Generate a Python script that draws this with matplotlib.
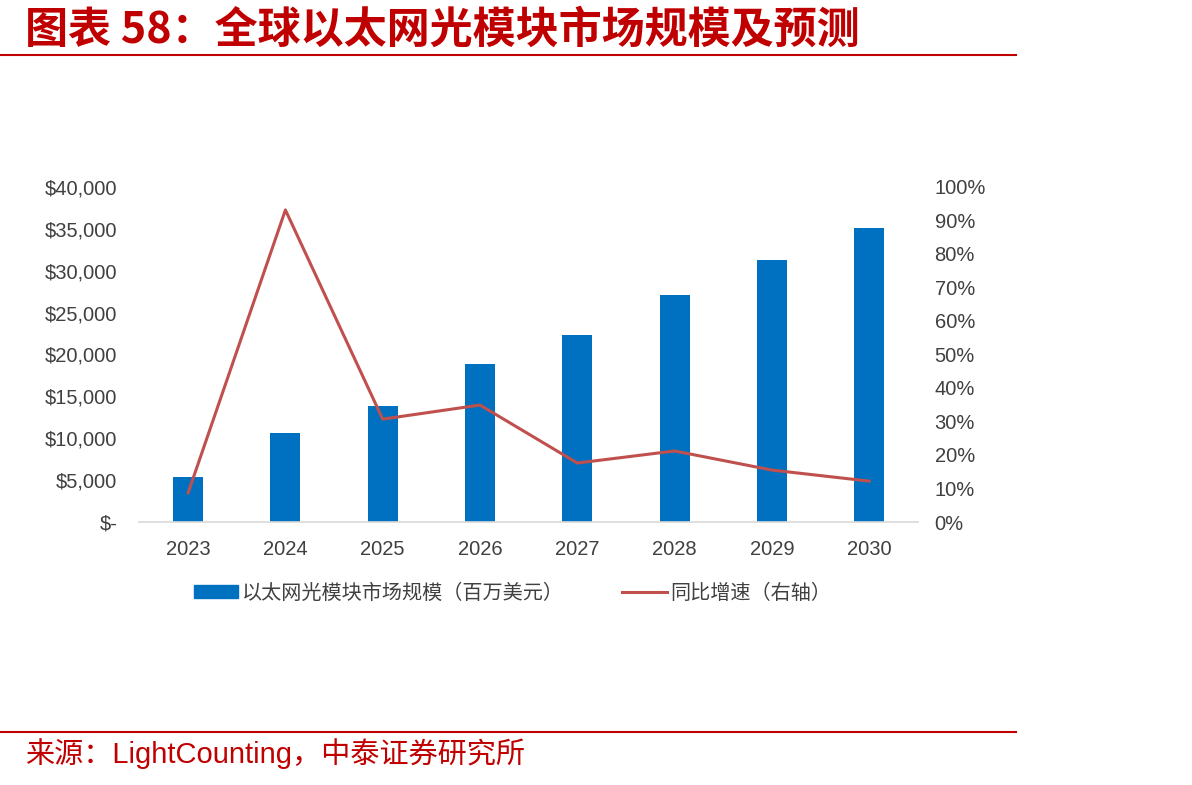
import matplotlib as mpl

mpl.use("Agg")
import matplotlib.pyplot as plt
import matplotlib.ticker as mticker
from matplotlib.lines import Line2D
from matplotlib.patches import Patch
import numpy as np

mpl.rcParams["font.family"] = ["Liberation Sans", "Noto Sans CJK SC", "DejaVu Sans"]
mpl.rcParams["axes.unicode_minus"] = False

RED = "#C00000"
BLUE = "#0070C0"
LINE = "#C0504D"
TICK = "#404040"

years = ["2023", "2024", "2025", "2026", "2027", "2028", "2029", "2030"]
market_size = [5400, 10600, 13900, 18900, 22300, 27100, 31300, 35100]  # 百万美元
yoy_growth = [0.087, 0.931, 0.307, 0.349, 0.176, 0.212, 0.155, 0.122]

left_ticks = [0, 5000, 10000, 15000, 20000, 25000, 30000, 35000, 40000]
right_ticks = [i / 10 for i in range(11)]


def dollar(v, pos):
    if v == 0:
        return "$-"
    return f"${v:,.0f}"


fig = plt.figure(figsize=(11.92, 7.85), dpi=100)
fig.patch.set_facecolor("white")

# header / footer
fig.text(0.021, 0.962, "图表 58：全球以太网光模块市场规模及预测", fontsize=31,
         fontweight="bold", color=RED, va="center",
         family=["Noto Sans CJK SC", "DejaVu Sans"])
fig.add_artist(Line2D([0, 0.852], [0.930, 0.930], color=RED, lw=1.5))
fig.add_artist(Line2D([0, 0.852], [0.068, 0.068], color=RED, lw=1.5))
fig.text(0.021, 0.040, "来源：LightCounting，中泰证券研究所", fontsize=21,
         color=RED, va="center")

ax = fig.add_axes([0.117, 0.335, 0.653, 0.427])
x = np.arange(len(years))
ax.bar(x, market_size, width=0.31, color=BLUE, zorder=2)
ax.set_xlim(-0.5, len(years) - 0.5)
ax.set_ylim(0, 40000)
ax.set_yticks(left_ticks)
ax.yaxis.set_major_formatter(mticker.FuncFormatter(dollar))
ax.set_xticks(x)
ax.set_xticklabels(years)
for s in ["top", "right", "left"]:
    ax.spines[s].set_visible(False)
ax.spines["bottom"].set_color("#D9D9D9")
ax.spines["bottom"].set_linewidth(1.2)
ax.tick_params(axis="both", length=0, labelsize=14.5, colors=TICK)
ax.tick_params(axis="y", pad=16)
ax.tick_params(axis="x", pad=13)

ax2 = ax.twinx()
ax2.plot(x, yoy_growth, color=LINE, lw=2.2, zorder=3)
ax2.set_ylim(0, 1.0)
ax2.set_yticks(right_ticks)
ax2.yaxis.set_major_formatter(mticker.PercentFormatter(1.0, decimals=0))
for s in ["top", "right", "left", "bottom"]:
    ax2.spines[s].set_visible(False)
ax2.tick_params(axis="y", length=0, labelsize=14.5, colors=TICK, pad=12)

handles = [Patch(color=BLUE), Line2D([0], [0], color=LINE, lw=2.2)]
labels = ["以太网光模块市场规模（百万美元）", "同比增速（右轴）"]
fig.legend(handles, labels, loc="center", bbox_to_anchor=(0.43, 0.244), ncol=2,
           frameon=False, labelcolor=TICK, handlelength=2.2,
           handleheight=0.6, columnspacing=2.9, handletextpad=0.2,
           prop={"family": ["Noto Sans CJK SC", "DejaVu Sans"], "size": 14.5})

fig.savefig("out.png", dpi=100)
